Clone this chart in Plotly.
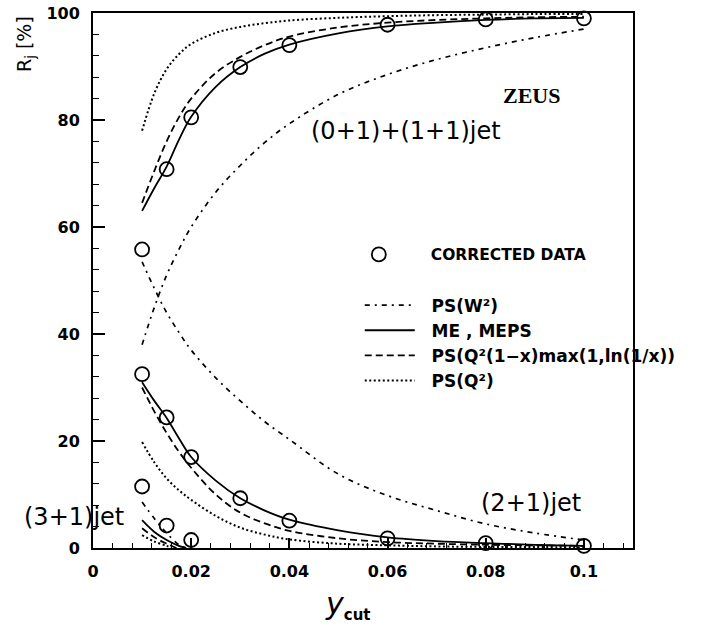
import plotly.graph_objects as go

# ---------------- data ----------------
ycut_data = [0.01, 0.015, 0.02, 0.03, 0.04, 0.06, 0.08, 0.1]
r01_data = [55.8, 70.8, 80.5, 89.9, 94.0, 97.8, 98.8, 99.0]
r21_data = [32.5, 24.4, 17.0, 9.3, 5.1, 1.8, 0.9, 0.4]
ycut31_data = [0.01, 0.015, 0.02]
r31_data = [11.5, 4.2, 1.5]

ycut_grid = [0.01, 0.0125, 0.015, 0.0175, 0.02, 0.025, 0.03, 0.035, 0.04, 0.05, 0.06, 0.07, 0.08, 0.09, 0.1]

# ME, MEPS (solid)
meps_01 = [63, 67.3, 71.3, 76.3, 80.6, 86.2, 89.9, 92.4, 94.1, 96.2, 97.5, 98.2, 98.7, 99.0, 99.1]
meps_21 = [31, 27.5, 24.3, 20.5, 17, 12.6, 9.3, 7.0, 5.3, 3.3, 2.0, 1.3, 0.9, 0.6, 0.4]
meps_31_x = [0.01, 0.0125, 0.015, 0.0175, 0.019]
meps_31 = [5.2, 3.0, 1.5, 0.4, 0]

# PS(Q^2(1-x)max(1,ln(1/x))) (dashed)
psqx_01 = [64.5, 70.5, 76, 80.5, 84, 88.8, 91.8, 94, 95.6, 97.3, 98.2, 98.7, 99.0, 99.2, 99.3]
psqx_21 = [30, 25.5, 21.5, 18, 15, 10, 6.6, 4.6, 3.2, 1.8, 1.1, 0.8, 0.6, 0.5, 0.4]
psqx_31_x = [0.01, 0.0125, 0.015, 0.017]
psqx_31 = [3.7, 2.0, 0.8, 0]

# PS(Q^2) (dotted)
psq2_01 = [78, 85, 89.5, 92.3, 94.2, 96.3, 97.4, 98.1, 98.6, 99.1, 99.4, 99.6, 99.7, 99.8, 99.8]
psq2_21 = [19.8, 16, 13, 10.8, 9, 6, 3.8, 2.5, 1.6, 0.8, 0.5, 0.3, 0.2, 0.2, 0.1]
psq2_31_x = [0.01, 0.0125, 0.015, 0.016]
psq2_31 = [2.4, 1.2, 0.4, 0]

# PS(W^2) (dash-dot)
psw2_01 = [38, 45, 51, 55.8, 60, 66.5, 71.5, 75.8, 79.3, 84.8, 88.5, 91.3, 93.5, 95.4, 97]
psw2_21 = [53.5, 48.5, 44, 40.3, 37, 31.8, 27.5, 23.6, 20.3, 13.8, 9.8, 7, 4.5, 2.8, 1.5]
psw2_31_x = [0.01, 0.0125, 0.015, 0.0175, 0.019]
psw2_31 = [8.6, 5.5, 2.8, 0.6, 0]

x_tick_vals = [0, 0.02, 0.04, 0.06, 0.08, 0.1]
x_tick_text = ["0", "0.02", "0.04", "0.06", "0.08", "0.1"]
y_tick_vals = [0, 20, 40, 60, 80, 100]

# ---------------- figure ----------------
fig = go.Figure()
black = "black"

models = [
    ("PS(W\u00b2)", "5px,5px,2px,5px", 1.7,
     [(ycut_grid, psw2_01), (ycut_grid, psw2_21), (psw2_31_x, psw2_31)]),
    ("ME , MEPS", "solid", 1.8,
     [(ycut_grid, meps_01), (ycut_grid, meps_21), (meps_31_x, meps_31)]),
    ("PS(Q\u00b2(1\u2212x)max(1,ln(1/x))", "7px,4px", 1.8,
     [(ycut_grid, psqx_01), (ycut_grid, psqx_21), (psqx_31_x, psqx_31)]),
    ("PS(Q\u00b2)", "2px,2.5px", 2.0,
     [(ycut_grid, psq2_01), (ycut_grid, psq2_21), (psq2_31_x, psq2_31)]),
]
for name, dash, w, groups in models:
    for i, (gx, gy) in enumerate(groups):
        fig.add_trace(go.Scatter(
            x=gx, y=gy, mode="lines", name="\u00a0\u00a0" + name,
            line=dict(color=black, width=w, dash=dash, shape="spline", smoothing=1.0),
            showlegend=(i == 0), legend="legend2", legendgroup=name, cliponaxis=False))

for i, (dx, dy) in enumerate([(ycut_data, r01_data), (ycut_data, r21_data), (ycut31_data, r31_data)]):
    fig.add_trace(go.Scatter(
        x=dx, y=dy, mode="markers", name="\u00a0\u00a0\u00a0\u00a0\u00a0CORRECTED DATA",
        marker=dict(symbol="circle-open", size=14, color=black, line=dict(width=1.8, color=black)),
        showlegend=(i == 0), legend="legend", legendgroup="data", cliponaxis=False))

tickfont = dict(family="DejaVu Sans", size=16, color=black, weight="bold")
fig.update_xaxes(
    range=[0, 0.11], tickvals=x_tick_vals, ticktext=x_tick_text,
    ticks="inside", ticklen=10, tickwidth=1.5, tickcolor=black,
    minor=dict(dtick=0.004, tick0=0, ticks="inside", ticklen=5, tickwidth=1.2, tickcolor=black),
    showline=True, linecolor=black, linewidth=2, mirror=True, automargin=False,
    showgrid=False, zeroline=False, tickfont=tickfont, ticklabelstandoff=8)
fig.update_yaxes(
    range=[0, 100], tickvals=y_tick_vals,
    ticks="inside", ticklen=12, tickwidth=1.5, tickcolor=black,
    minor=dict(dtick=4, tick0=0, ticks="inside", ticklen=6, tickwidth=1.2, tickcolor=black),
    showline=True, linecolor=black, linewidth=2, mirror=True, automargin=False,
    showgrid=False, zeroline=False, tickfont=tickfont, ticklabelstandoff=8)

txt = dict(family="DejaVu Sans", size=24, color=black)
fig.add_annotation(x=0.0637, y=78, xref="x", yref="y", text="(0+1)+(1+1)jet",
                   showarrow=False, font=txt)
fig.add_annotation(x=0.0893, y=8.4, xref="x", yref="y", text="(2+1)jet",
                   showarrow=False, font=txt)
fig.add_annotation(x=0.0068, y=5.8, xref="x", yref="y", text="(3+1)jet",
                   showarrow=False, font=txt, xanchor="right")
fig.add_annotation(x=0.0894, y=84.5, xref="x", yref="y", text="<b>ZEUS</b>",
                   showarrow=False, font=dict(family="Liberation Serif", size=22, color=black))
fig.add_annotation(x=-0.126, y=0.942, xref="paper", yref="paper", text="R<sub>j</sub> [%]",
                   textangle=-90, showarrow=False, xanchor="center", yanchor="middle",
                   font=dict(family="DejaVu Sans", size=19, color=black))
fig.add_annotation(x=0.472, y=-0.106, xref="paper", yref="paper",
                   text="<i>y</i><sub><span style='font-size:15px'><b>cut</b></span></sub>",
                   showarrow=False, xanchor="center", yanchor="middle",
                   font=dict(family="DejaVu Sans", size=30, color=black))

fig.update_layout(
    width=701, height=627,
    margin=dict(l=93, r=68, t=13, b=79, autoexpand=False),
    paper_bgcolor="white", plot_bgcolor="white",
    legend=dict(x=0.483, y=0.548, xanchor="left", yanchor="middle",
                bgcolor="rgba(0,0,0,0)",
                font=dict(family="DejaVu Sans", size=15.5, color=black, weight="bold"),
                itemwidth=40),
    legend2=dict(x=0.494, y=0.383, xanchor="left", yanchor="middle",
                 bgcolor="rgba(0,0,0,0)",
                 font=dict(family="DejaVu Sans", size=17, color=black, weight=600),
                 itemwidth=50, tracegroupgap=0),
)

fig.write_html("out.html")
